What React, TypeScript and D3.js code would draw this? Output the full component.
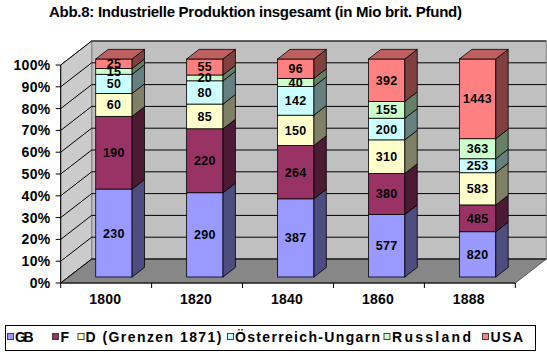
import React from "react";
import * as d3 from "d3";

const title = "Abb.8: Industrielle Produktion insgesamt (in Mio brit. Pfund)";
const years = ["1800", "1820", "1840", "1860", "1888"];
const seriesNames = ["GB", "F", "D (Grenzen 1871)", "Österreich-Ungarn", "Russland", "USA"];
const gb = [230, 290, 387, 577, 820];
const fr = [190, 220, 264, 380, 485];
const de = [60, 85, 150, 310, 583];
const oe = [50, 80, 142, 200, 253];
const ru = [15, 20, 40, 155, 363];
const us = [25, 55, 96, 392, 1443];
const yTickValues = [0, 0.1, 0.2, 0.3, 0.4, 0.5, 0.6, 0.7, 0.8, 0.9, 1];

const fills = ["#9999FF", "#993366", "#FFFFCC", "#CCFFFF", "#CCFFCC", "#FF8080"];

// legend layout (x of marker, x of text, text width)
const legendX = [
  [7, 15, 18.5],
  [52, 60.5, 7],
  [77.5, 85.5, 136],
  [227, 235, 145],
  [383.5, 392, 79],
  [482, 490.5, 32.5],
];

const W = 547;
const H = 352;
const DX = 31;
const DY = -24;
const D0 = 0.25;
const D1 = 0.65;

function shade(c: string, k: number) {
  const col = d3.rgb(c);
  return d3.rgb(col.r * k, col.g * k, col.b * k).formatHex();
}

export default function App() {
  const seriesVals = [gb, fr, de, oe, ru, us];
  const rows = years.map((y, i) => {
    const r: any = { year: y };
    seriesNames.forEach((s, j) => (r[s] = seriesVals[j][i]));
    return r;
  });
  const stack = d3.stack<any>().keys(seriesNames).offset(d3.stackOffsetExpand);
  const stacked = stack(rows);

  const x0 = 60.7;
  const x1 = 515.3;
  const xb = d3.scaleBand<string>().domain(years).range([x0, x1]).paddingInner(0.6).paddingOuter(0.3);
  const xc = d3.scaleBand<string>().domain(years).range([x0, x1]);
  const y = d3.scaleLinear().domain([0, 1]).range([283, 65]);
  const bw = xb.bandwidth();
  const yBase = y(0);
  const backX0 = x0 + DX;
  const backX1 = x1 + DX;

  const pts = (arr: number[][]) => arr.map((p) => p.join(",")).join(" ");
  const ddx = (D1 - D0) * DX;
  const ddy = (D1 - D0) * DY;

  const faces: React.ReactNode[] = [];
  const labels: React.ReactNode[] = [];
  years.forEach((yr, i) => {
    const fx0 = (xb(yr) as number) + D0 * DX;
    const fx1 = fx0 + bw;
    stacked.forEach((layer, j) => {
      const [a, b] = layer[i];
      const yt = y(b) + D0 * DY;
      const ybt = y(a) + D0 * DY;
      const c = fills[j];
      faces.push(
        <g key={`b${i}-${j}`}>
          <rect x={fx0} y={yt} width={bw} height={ybt - yt} fill={c} stroke="#000" strokeWidth={0.8} />
          <polygon
            points={pts([[fx1, yt], [fx1 + ddx, yt + ddy], [fx1 + ddx, ybt + ddy], [fx1, ybt]])}
            fill={shade(c, 0.5)}
            stroke="#000"
            strokeWidth={0.8}
          />
          {j === stacked.length - 1 && (
            <polygon
              points={pts([[fx0, yt], [fx1, yt], [fx1 + ddx, yt + ddy], [fx0 + ddx, yt + ddy]])}
              fill={shade(c, 0.75)}
              stroke="#000"
              strokeWidth={0.8}
            />
          )}
        </g>
      );
      labels.push(
        <text
          key={`l${i}-${j}`}
          x={fx0 + bw / 2}
          y={(yt + ybt) / 2}
          dy="0.36em"
          textAnchor="middle"
          fontSize={12.5}
          fontWeight="bold"
          letterSpacing={0.3}
          fill="#000"
        >
          {seriesVals[j][i]}
        </text>
      );
    });
  });

  return (
    <svg
      width={W}
      height={H}
      style={{ position: "absolute", left: 0, top: 0, background: "#fff" }}
      fontFamily="Arial, 'Liberation Sans', sans-serif"
    >
      <rect x={0} y={0} width={W} height={H} fill="#fff" />
      <text x={255.5} y={16.5} textAnchor="middle" fontSize={15} fontWeight="bold" textLength={413} lengthAdjust="spacing">
        {title}
      </text>

      {/* back wall */}
      <rect x={backX0} y={y(1) + DY} width={backX1 - backX0} height={yBase - y(1)} fill="#c0c0c0" stroke="#808080" strokeWidth={1} />
      {/* side wall */}
      <polygon
        points={pts([[x0, y(1)], [backX0, y(1) + DY], [backX0, yBase + DY], [x0, yBase]])}
        fill="#cbcbcb"
        stroke="#808080"
        strokeWidth={1}
      />
      {/* floor */}
      <polygon
        points={pts([[x0, yBase], [x1, yBase], [backX1, yBase + DY], [backX0, yBase + DY]])}
        fill="#878787"
        stroke="#555"
        strokeWidth={1}
      />
      {/* gridlines */}
      {yTickValues.map((t) => (
        <g key={`g${t}`}>
          <line x1={x0} y1={y(t)} x2={backX0} y2={y(t) + DY} stroke="#000" strokeWidth={1} />
          <line x1={backX0} y1={y(t) + DY} x2={backX1} y2={y(t) + DY} stroke="#000" strokeWidth={1} />
        </g>
      ))}

      {faces}
      {labels}

      {/* axes */}
      <line x1={x0} y1={y(1)} x2={x0} y2={yBase} stroke="#000" strokeWidth={1} />
      <line x1={x0} y1={yBase} x2={x1} y2={yBase} stroke="#000" strokeWidth={1} />
      {yTickValues.map((t) => (
        <g key={`yt${t}`}>
          <line x1={x0 - 5} y1={y(t)} x2={x0} y2={y(t)} stroke="#000" strokeWidth={1} />
          <text x={50.5} y={y(t)} dy="0.36em" textAnchor="end" fontSize={14} fontWeight="bold" letterSpacing={0.3}>
            {`${Math.round(t * 100)}%`}
          </text>
        </g>
      ))}
      {[...years.map((yr) => xc(yr) as number), x1].map((xv, i) => (
        <line key={`xt${i}`} x1={xv} y1={yBase} x2={xv} y2={yBase + 5} stroke="#000" strokeWidth={1} />
      ))}
      {years.map((yr) => (
        <text
          key={`xl${yr}`}
          x={(xc(yr) as number) + xc.bandwidth() / 2 - 1}
          y={304}
          textAnchor="middle"
          fontSize={14}
          fontWeight="bold"
          letterSpacing={0.2}
        >
          {yr}
        </text>
      ))}

      {/* legend */}
      <rect x={5.5} y={325.5} width={530} height={25} fill="#fff" stroke="#000" strokeWidth={1} />
      {seriesNames.map((s, j) => (
        <g key={`lg${j}`}>
          <rect x={legendX[j][0] + 0.5} y={333.5} width={6} height={6} fill={fills[j]} stroke="#404040" strokeWidth={1} />
          <text x={legendX[j][1]} y={342} fontSize={14} fontWeight="bold" textLength={legendX[j][2]} lengthAdjust="spacing">
            {s}
          </text>
        </g>
      ))}
    </svg>
  );
}
